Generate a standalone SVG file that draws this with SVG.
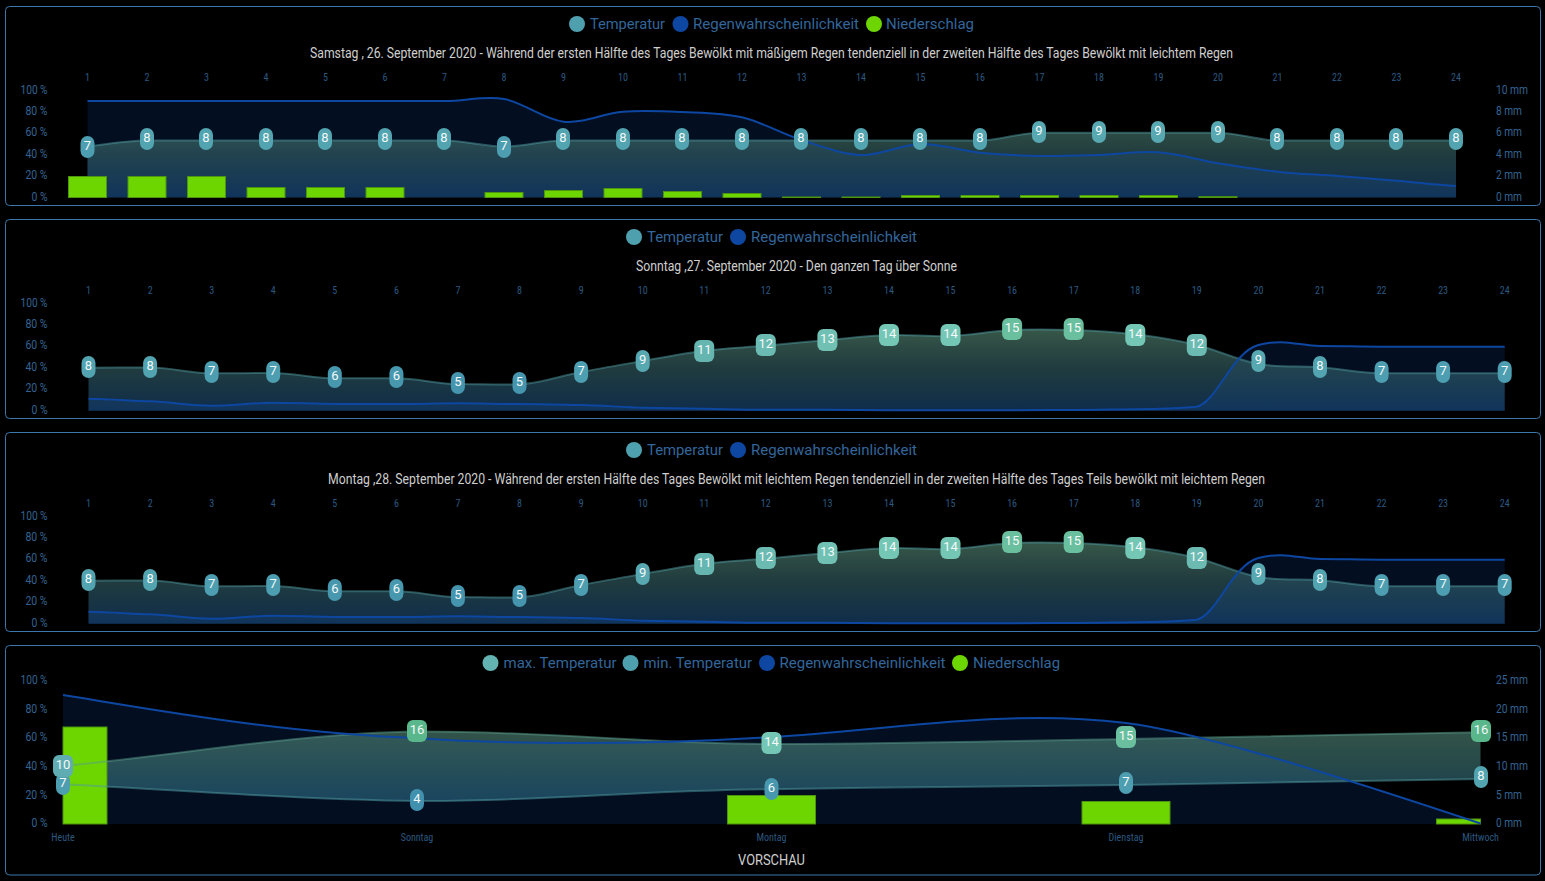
<svg xmlns="http://www.w3.org/2000/svg" width="1545" height="881" viewBox="0 0 1545 881">
<style>
text{font-family:Roboto,"Liberation Sans",sans-serif}
.hr{font-size:10px;fill:#2c5880;text-anchor:middle;font-stretch:75%}
.ax{font-size:13px;fill:#356390;text-anchor:end}
.ar{font-size:13px;fill:#356390}
.lg{font-size:15px;fill:#33669a}
.ttl{font-size:14px;fill:#cfcfcf}
.pn{fill:#000;stroke:#3c78ad;stroke-width:1}
.ra{fill:#0d47a1;fill-opacity:.2}
.rl{fill:none;stroke:#0d47a1;stroke-width:2}
.tl{fill:none;stroke:#4f9aa0;stroke-opacity:.5;stroke-width:2}
.bar{fill:#6dd600;stroke:#4f9410;stroke-width:1}
.b1{width:14px;height:22px;rx:7px;ry:7px}
.b2{width:20px;height:22px;rx:6px;ry:6px}
.bt{font-size:13px;fill:#f4f8f8;text-anchor:middle;font-weight:400}
.t4{fill:#4191ae}.t5{fill:#4695ae}.t6{fill:#4798ae}.t7{fill:#4c9eb0}.t8{fill:#52a4b0}.t9{fill:#58a8b2}
.t10{fill:#5fadb2}.t11{fill:#65b5b1}.t12{fill:#6bbbb2}.t13{fill:#70c1b4}.t14{fill:#74c7b5}.t15{fill:#69bf9e}.t16{fill:#5ab78b}
</style>
<defs>
<linearGradient id="gr1" gradientUnits="userSpaceOnUse" x1="0" x2="0" y1="90" y2="197.5">
<stop offset=".25" stop-color="#5f967d" stop-opacity=".58"/><stop offset=".6" stop-color="#41787d" stop-opacity=".5"/><stop offset="1" stop-color="#1e5a96" stop-opacity=".5"/>
</linearGradient>
<linearGradient id="gr2" gradientUnits="userSpaceOnUse" x1="0" x2="0" y1="303" y2="410.5">
<stop offset=".25" stop-color="#5f967d" stop-opacity=".58"/><stop offset=".6" stop-color="#41787d" stop-opacity=".5"/><stop offset="1" stop-color="#1e5a96" stop-opacity=".5"/>
</linearGradient>
<linearGradient id="gr4" gradientUnits="userSpaceOnUse" x1="0" x2="0" y1="720" y2="805">
<stop offset="0" stop-color="#5f967d" stop-opacity=".58"/><stop offset=".5" stop-color="#44807f" stop-opacity=".58"/><stop offset="1" stop-color="#2f7a9c" stop-opacity=".5"/>
</linearGradient>
</defs>
<rect width="1545" height="881" fill="#000"/>

<g id="panel-samstag">
<rect class="pn" x="5.5" y="6.5" width="1535" height="199" rx="4"/>
<g id="legend-1">
<circle cx="577" cy="24" r="8" fill="#4fa0ae"/><text class="lg" x="590" y="29" textLength="75" lengthAdjust="spacingAndGlyphs">Temperatur</text>
<circle cx="680.5" cy="24" r="8" fill="#0d47a1"/><text class="lg" x="693" y="29" textLength="166" lengthAdjust="spacingAndGlyphs">Regenwahrscheinlichkeit</text>
<circle cx="874" cy="24" r="8" fill="#6dd600"/><text class="lg" x="886" y="29" textLength="88" lengthAdjust="spacingAndGlyphs">Niederschlag</text>
</g>
<text class="ttl" x="310" y="58" textLength="923" lengthAdjust="spacingAndGlyphs">Samstag , 26. September 2020 - Während der ersten Hälfte des Tages Bewölkt mit mäßigem Regen tendenziell in der zweiten Hälfte des Tages Bewölkt mit leichtem Regen</text>
<g id="axis-1">
<text class="hr" x="87.5" y="80.5">1</text><text class="hr" x="147" y="80.5">2</text><text class="hr" x="206.5" y="80.5">3</text><text class="hr" x="266" y="80.5">4</text><text class="hr" x="325.5" y="80.5">5</text><text class="hr" x="385" y="80.5">6</text><text class="hr" x="444.5" y="80.5">7</text><text class="hr" x="504" y="80.5">8</text><text class="hr" x="563.5" y="80.5">9</text><text class="hr" x="623" y="80.5">10</text><text class="hr" x="682.5" y="80.5">11</text><text class="hr" x="742" y="80.5">12</text><text class="hr" x="801.5" y="80.5">13</text><text class="hr" x="861" y="80.5">14</text><text class="hr" x="920.5" y="80.5">15</text><text class="hr" x="980" y="80.5">16</text><text class="hr" x="1039.5" y="80.5">17</text><text class="hr" x="1099" y="80.5">18</text><text class="hr" x="1158.5" y="80.5">19</text><text class="hr" x="1218" y="80.5">20</text><text class="hr" x="1277.5" y="80.5">21</text><text class="hr" x="1337" y="80.5">22</text><text class="hr" x="1396.5" y="80.5">23</text><text class="hr" x="1456" y="80.5">24</text>
<text class="ax" x="47.5" y="94" textLength="27" lengthAdjust="spacingAndGlyphs">100 %</text><text class="ax" x="47.5" y="115" textLength="22" lengthAdjust="spacingAndGlyphs">80 %</text><text class="ax" x="47.5" y="136" textLength="22" lengthAdjust="spacingAndGlyphs">60 %</text><text class="ax" x="47.5" y="158" textLength="22" lengthAdjust="spacingAndGlyphs">40 %</text><text class="ax" x="47.5" y="179" textLength="22" lengthAdjust="spacingAndGlyphs">20 %</text><text class="ax" x="47.5" y="201" textLength="16" lengthAdjust="spacingAndGlyphs">0 %</text>
<text class="ar" x="1496" y="94" textLength="32" lengthAdjust="spacingAndGlyphs">10 mm</text><text class="ar" x="1496" y="115" textLength="26" lengthAdjust="spacingAndGlyphs">8 mm</text><text class="ar" x="1496" y="136" textLength="26" lengthAdjust="spacingAndGlyphs">6 mm</text><text class="ar" x="1496" y="158" textLength="26" lengthAdjust="spacingAndGlyphs">4 mm</text><text class="ar" x="1496" y="179" textLength="26" lengthAdjust="spacingAndGlyphs">2 mm</text><text class="ar" x="1496" y="201" textLength="26" lengthAdjust="spacingAndGlyphs">0 mm</text>
</g>
<path class="ra" d="M87.5 101H444.5C464.5 101.2 484 95.6 504 99S543.5 119.6 563.5 121.7S603 113.3 623 111.7S662.5 111.1 682.5 112S722 112.6 742 117.3S781.5 133.7 801.5 140S841 154.3 861 155S900.5 144.4 920.5 144S960 150.7 980 152.7S1019.5 155.6 1039.5 156S1079 155.6 1099 155S1138.5 150.9 1158.5 152.3S1198 160.1 1218 163.3S1257.5 169.6 1277.5 171.7S1317 174.5 1337 176S1376.5 179 1396.5 180.7S1436 185 1456 186V197.5H87.5Z"/>
<path fill="url(#gr1)" d="M87.5 146.7C107.5 144 127 140.5 147 140.5H444.5C464 140.5 484 146.7 504 146.7C524 146.7 543.5 140.5 563.5 140.5H980C1000 140.5 1019.5 132.7 1039.5 132.7H1218C1238 132.7 1257.5 140.5 1277.5 140.5H1456V197.5H87.5Z"/>
<path class="tl" d="M87.5 146.7C107.5 144 127 140.5 147 140.5H444.5C464 140.5 484 146.7 504 146.7C524 146.7 543.5 140.5 563.5 140.5H980C1000 140.5 1019.5 132.7 1039.5 132.7H1218C1238 132.7 1257.5 140.5 1277.5 140.5H1456"/>
<path class="rl" d="M87.5 101H444.5C464.5 101.2 484 95.6 504 99S543.5 119.6 563.5 121.7S603 113.3 623 111.7S662.5 111.1 682.5 112S722 112.6 742 117.3S781.5 133.7 801.5 140S841 154.3 861 155S900.5 144.4 920.5 144S960 150.7 980 152.7S1019.5 155.6 1039.5 156S1079 155.6 1099 155S1138.5 150.9 1158.5 152.3S1198 160.1 1218 163.3S1257.5 169.6 1277.5 171.7S1317 174.5 1337 176S1376.5 179 1396.5 180.7S1436 185 1456 186"/>
<g id="bars-1">
<rect class="bar" x="68.5" y="176.5" width="38" height="21"/><rect class="bar" x="128" y="176.5" width="38" height="21"/><rect class="bar" x="187.5" y="176.5" width="38" height="21"/><rect class="bar" x="247" y="187.5" width="38" height="10"/><rect class="bar" x="306.5" y="187.5" width="38" height="10"/><rect class="bar" x="366" y="187.5" width="38" height="10"/><rect class="bar" x="485" y="192.5" width="38" height="5"/><rect class="bar" x="544.5" y="190.5" width="38" height="7"/><rect class="bar" x="604" y="188.5" width="38" height="9"/><rect class="bar" x="663.5" y="191.5" width="38" height="6"/><rect class="bar" x="723" y="193.5" width="38" height="4"/><rect class="bar" x="782.5" y="197" width="38" height=".5"/><rect class="bar" x="842" y="197" width="38" height=".5"/><rect class="bar" x="901.5" y="195.5" width="38" height="2"/><rect class="bar" x="961" y="195.5" width="38" height="2"/><rect class="bar" x="1020.5" y="195.5" width="38" height="2"/><rect class="bar" x="1080" y="195.5" width="38" height="2"/><rect class="bar" x="1139.5" y="195.5" width="38" height="2"/><rect class="bar" x="1199" y="196.7" width="38" height=".8"/>
</g>
<g id="badges-1">
<rect class="b1 t7" x="80.5" y="136"/><text class="bt" x="87.5" y="150">7</text>
<rect class="b1 t8" x="140" y="128"/><text class="bt" x="147" y="142">8</text>
<rect class="b1 t8" x="199" y="128"/><text class="bt" x="206" y="142">8</text>
<rect class="b1 t8" x="259" y="128"/><text class="bt" x="266" y="142">8</text>
<rect class="b1 t8" x="318" y="128"/><text class="bt" x="325" y="142">8</text>
<rect class="b1 t8" x="378" y="128"/><text class="bt" x="385" y="142">8</text>
<rect class="b1 t8" x="437" y="128"/><text class="bt" x="444" y="142">8</text>
<rect class="b1 t7" x="497" y="136"/><text class="bt" x="504" y="150">7</text>
<rect class="b1 t8" x="556" y="128"/><text class="bt" x="563" y="142">8</text>
<rect class="b1 t8" x="616" y="128"/><text class="bt" x="623" y="142">8</text>
<rect class="b1 t8" x="675" y="128"/><text class="bt" x="682" y="142">8</text>
<rect class="b1 t8" x="735" y="128"/><text class="bt" x="742" y="142">8</text>
<rect class="b1 t8" x="794" y="128"/><text class="bt" x="801" y="142">8</text>
<rect class="b1 t8" x="854" y="128"/><text class="bt" x="861" y="142">8</text>
<rect class="b1 t8" x="913" y="128"/><text class="bt" x="920" y="142">8</text>
<rect class="b1 t8" x="973" y="128"/><text class="bt" x="980" y="142">8</text>
<rect class="b1 t9" x="1032" y="121"/><text class="bt" x="1039" y="135">9</text>
<rect class="b1 t9" x="1092" y="121"/><text class="bt" x="1099" y="135">9</text>
<rect class="b1 t9" x="1151" y="121"/><text class="bt" x="1158" y="135">9</text>
<rect class="b1 t9" x="1211" y="121"/><text class="bt" x="1218" y="135">9</text>
<rect class="b1 t8" x="1270" y="128"/><text class="bt" x="1277" y="142">8</text>
<rect class="b1 t8" x="1330" y="128"/><text class="bt" x="1337" y="142">8</text>
<rect class="b1 t8" x="1389" y="128"/><text class="bt" x="1396" y="142">8</text>
<rect class="b1 t8" x="1449" y="128"/><text class="bt" x="1456" y="142">8</text>
</g>
</g>

<g id="panel-sonntag">
<rect class="pn" x="5.5" y="219.5" width="1535" height="199" rx="4"/>
<g id="legend-2">
<circle cx="634" cy="237" r="8" fill="#4fa0ae"/><text class="lg" x="647" y="242" textLength="76" lengthAdjust="spacingAndGlyphs">Temperatur</text>
<circle cx="738" cy="237" r="8" fill="#0d47a1"/><text class="lg" x="751" y="242" textLength="166" lengthAdjust="spacingAndGlyphs">Regenwahrscheinlichkeit</text>
</g>
<text class="ttl" x="636" y="271" textLength="321" lengthAdjust="spacingAndGlyphs">Sonntag ,27. September 2020 - Den ganzen Tag über Sonne</text>
<g id="axis-2">
<text class="hr" x="88.5" y="293.5">1</text><text class="hr" x="150.1" y="293.5">2</text><text class="hr" x="211.6" y="293.5">3</text><text class="hr" x="273.2" y="293.5">4</text><text class="hr" x="334.8" y="293.5">5</text><text class="hr" x="396.4" y="293.5">6</text><text class="hr" x="457.9" y="293.5">7</text><text class="hr" x="519.5" y="293.5">8</text><text class="hr" x="581.1" y="293.5">9</text><text class="hr" x="642.7" y="293.5">10</text><text class="hr" x="704.2" y="293.5">11</text><text class="hr" x="765.8" y="293.5">12</text><text class="hr" x="827.4" y="293.5">13</text><text class="hr" x="889" y="293.5">14</text><text class="hr" x="950.5" y="293.5">15</text><text class="hr" x="1012.1" y="293.5">16</text><text class="hr" x="1073.7" y="293.5">17</text><text class="hr" x="1135.3" y="293.5">18</text><text class="hr" x="1196.8" y="293.5">19</text><text class="hr" x="1258.4" y="293.5">20</text><text class="hr" x="1320" y="293.5">21</text><text class="hr" x="1381.6" y="293.5">22</text><text class="hr" x="1443.1" y="293.5">23</text><text class="hr" x="1504.7" y="293.5">24</text>
<text class="ax" x="47.5" y="307" textLength="27" lengthAdjust="spacingAndGlyphs">100 %</text><text class="ax" x="47.5" y="328" textLength="22" lengthAdjust="spacingAndGlyphs">80 %</text><text class="ax" x="47.5" y="349" textLength="22" lengthAdjust="spacingAndGlyphs">60 %</text><text class="ax" x="47.5" y="371" textLength="22" lengthAdjust="spacingAndGlyphs">40 %</text><text class="ax" x="47.5" y="392" textLength="22" lengthAdjust="spacingAndGlyphs">20 %</text><text class="ax" x="47.5" y="414" textLength="16" lengthAdjust="spacingAndGlyphs">0 %</text>
</g>
<path class="ra" d="M88.5 398.7C109 399 129.6 400.6 150.1 401.3S191.1 405.7 211.6 405.7S252.7 402.7 273.2 402.7S314.3 404 334.8 404S375.9 404 396.4 404S437.4 403.3 457.9 403.3S499 404 519.5 404S560.6 404.6 581.1 405S622.2 407.2 642.7 407.7S683.7 408.4 704.2 408.7S745.3 409.7 765.8 409.7S806.9 409.8 827.4 409.8S868.5 410.3 889 410.3H1012.1S1053.2 410 1073.7 410S1114.8 409.5 1135.3 409.3S1176.3 408.5 1196.8 406.7C1217 402 1232 352 1258.4 345S1299.5 346 1320 346S1361 346.7 1381.6 346.7H1504.7V410.7H88.5Z"/>
<path fill="url(#gr2)" d="M88.5 367.7C109 367.5 129.6 367.5 150.1 367.5S191.1 373.3 211.6 373.3S252.7 373 273.2 373S314.3 378.3 334.8 378.3S375.9 378.3 396.4 378.3S437.4 384 457.9 384S499 385 519.5 384.3S560.6 375.9 581.1 372S622.2 364.6 642.7 361S683.7 353.3 704.2 350.7S745.3 347.5 765.8 345.7S806.9 341.8 827.4 340S868.5 335.7 889 335S930 336.8 950.5 336S991.6 331 1012.1 330S1053.2 329.3 1073.7 330S1114.8 331.8 1135.3 334.3S1176.3 340 1196.8 345S1237.9 360.3 1258.4 364S1299.5 365.8 1320 367.3S1361.1 373.3 1381.6 373.3H1504.7V410.7H88.5Z"/>
<path class="tl" d="M88.5 367.7C109 367.5 129.6 367.5 150.1 367.5S191.1 373.3 211.6 373.3S252.7 373 273.2 373S314.3 378.3 334.8 378.3S375.9 378.3 396.4 378.3S437.4 384 457.9 384S499 385 519.5 384.3S560.6 375.9 581.1 372S622.2 364.6 642.7 361S683.7 353.3 704.2 350.7S745.3 347.5 765.8 345.7S806.9 341.8 827.4 340S868.5 335.7 889 335S930 336.8 950.5 336S991.6 331 1012.1 330S1053.2 329.3 1073.7 330S1114.8 331.8 1135.3 334.3S1176.3 340 1196.8 345S1237.9 360.3 1258.4 364S1299.5 365.8 1320 367.3S1361.1 373.3 1381.6 373.3H1504.7"/>
<path class="rl" d="M88.5 398.7C109 399 129.6 400.6 150.1 401.3S191.1 405.7 211.6 405.7S252.7 402.7 273.2 402.7S314.3 404 334.8 404S375.9 404 396.4 404S437.4 403.3 457.9 403.3S499 404 519.5 404S560.6 404.6 581.1 405S622.2 407.2 642.7 407.7S683.7 408.4 704.2 408.7S745.3 409.7 765.8 409.7S806.9 409.8 827.4 409.8S868.5 410.3 889 410.3H1012.1S1053.2 410 1073.7 410S1114.8 409.5 1135.3 409.3S1176.3 408.5 1196.8 406.7C1217 402 1232 352 1258.4 345S1299.5 346 1320 346S1361 346.7 1381.6 346.7H1504.7"/>
<g id="badges-2">
<rect class="b1 t8" x="81.5" y="356"/><text class="bt" x="88.5" y="370">8</text>
<rect class="b1 t8" x="143.1" y="356"/><text class="bt" x="150.1" y="370">8</text>
<rect class="b1 t7" x="204.6" y="361"/><text class="bt" x="211.6" y="375">7</text>
<rect class="b1 t7" x="266.2" y="361"/><text class="bt" x="273.2" y="375">7</text>
<rect class="b1 t6" x="327.8" y="366"/><text class="bt" x="334.8" y="380">6</text>
<rect class="b1 t6" x="389.4" y="366"/><text class="bt" x="396.4" y="380">6</text>
<rect class="b1 t5" x="450.9" y="372"/><text class="bt" x="457.9" y="386">5</text>
<rect class="b1 t5" x="512.5" y="372"/><text class="bt" x="519.5" y="386">5</text>
<rect class="b1 t7" x="574.1" y="361"/><text class="bt" x="581.1" y="375">7</text>
<rect class="b1 t9" x="635.7" y="350"/><text class="bt" x="642.7" y="364">9</text>
<rect class="b2 t11" x="694.2" y="340"/><text class="bt" x="704.2" y="354">11</text>
<rect class="b2 t12" x="755.8" y="334"/><text class="bt" x="765.8" y="348">12</text>
<rect class="b2 t13" x="817.4" y="329"/><text class="bt" x="827.4" y="343">13</text>
<rect class="b2 t14" x="879" y="324"/><text class="bt" x="889" y="338">14</text>
<rect class="b2 t14" x="940.5" y="324"/><text class="bt" x="950.5" y="338">14</text>
<rect class="b2 t15" x="1002.1" y="318"/><text class="bt" x="1012.1" y="332">15</text>
<rect class="b2 t15" x="1063.7" y="318"/><text class="bt" x="1073.7" y="332">15</text>
<rect class="b2 t14" x="1125.3" y="324"/><text class="bt" x="1135.3" y="338">14</text>
<rect class="b2 t12" x="1186.8" y="334"/><text class="bt" x="1196.8" y="348">12</text>
<rect class="b1 t9" x="1251.4" y="350"/><text class="bt" x="1258.4" y="364">9</text>
<rect class="b1 t8" x="1313" y="356"/><text class="bt" x="1320" y="370">8</text>
<rect class="b1 t7" x="1374.6" y="361"/><text class="bt" x="1381.6" y="375">7</text>
<rect class="b1 t7" x="1436.1" y="361"/><text class="bt" x="1443.1" y="375">7</text>
<rect class="b1 t7" x="1497.7" y="361"/><text class="bt" x="1504.7" y="375">7</text>
</g>
</g>

<g id="panel-montag" transform="translate(0,213)">
<rect class="pn" x="5.5" y="219.5" width="1535" height="199" rx="4"/>
<g id="legend-3">
<circle cx="634" cy="237" r="8" fill="#4fa0ae"/><text class="lg" x="647" y="242" textLength="76" lengthAdjust="spacingAndGlyphs">Temperatur</text>
<circle cx="738" cy="237" r="8" fill="#0d47a1"/><text class="lg" x="751" y="242" textLength="166" lengthAdjust="spacingAndGlyphs">Regenwahrscheinlichkeit</text>
</g>
<text class="ttl" x="328" y="271" textLength="937" lengthAdjust="spacingAndGlyphs">Montag ,28. September 2020 - Während der ersten Hälfte des Tages Bewölkt mit leichtem Regen tendenziell in der zweiten Hälfte des Tages Teils bewölkt mit leichtem Regen</text>
<g id="axis-3">
<text class="hr" x="88.5" y="293.5">1</text><text class="hr" x="150.1" y="293.5">2</text><text class="hr" x="211.6" y="293.5">3</text><text class="hr" x="273.2" y="293.5">4</text><text class="hr" x="334.8" y="293.5">5</text><text class="hr" x="396.4" y="293.5">6</text><text class="hr" x="457.9" y="293.5">7</text><text class="hr" x="519.5" y="293.5">8</text><text class="hr" x="581.1" y="293.5">9</text><text class="hr" x="642.7" y="293.5">10</text><text class="hr" x="704.2" y="293.5">11</text><text class="hr" x="765.8" y="293.5">12</text><text class="hr" x="827.4" y="293.5">13</text><text class="hr" x="889" y="293.5">14</text><text class="hr" x="950.5" y="293.5">15</text><text class="hr" x="1012.1" y="293.5">16</text><text class="hr" x="1073.7" y="293.5">17</text><text class="hr" x="1135.3" y="293.5">18</text><text class="hr" x="1196.8" y="293.5">19</text><text class="hr" x="1258.4" y="293.5">20</text><text class="hr" x="1320" y="293.5">21</text><text class="hr" x="1381.6" y="293.5">22</text><text class="hr" x="1443.1" y="293.5">23</text><text class="hr" x="1504.7" y="293.5">24</text>
<text class="ax" x="47.5" y="307" textLength="27" lengthAdjust="spacingAndGlyphs">100 %</text><text class="ax" x="47.5" y="328" textLength="22" lengthAdjust="spacingAndGlyphs">80 %</text><text class="ax" x="47.5" y="349" textLength="22" lengthAdjust="spacingAndGlyphs">60 %</text><text class="ax" x="47.5" y="371" textLength="22" lengthAdjust="spacingAndGlyphs">40 %</text><text class="ax" x="47.5" y="392" textLength="22" lengthAdjust="spacingAndGlyphs">20 %</text><text class="ax" x="47.5" y="414" textLength="16" lengthAdjust="spacingAndGlyphs">0 %</text>
</g>
<path class="ra" d="M88.5 398.7C109 399 129.6 400.6 150.1 401.3S191.1 405.7 211.6 405.7S252.7 402.7 273.2 402.7S314.3 404 334.8 404S375.9 404 396.4 404S437.4 403.3 457.9 403.3S499 404 519.5 404S560.6 404.6 581.1 405S622.2 407.2 642.7 407.7S683.7 408.4 704.2 408.7S745.3 409.7 765.8 409.7S806.9 409.8 827.4 409.8S868.5 410.3 889 410.3H1012.1S1053.2 410 1073.7 410S1114.8 409.5 1135.3 409.3S1176.3 408.5 1196.8 406.7C1217 402 1232 352 1258.4 345S1299.5 346 1320 346S1361 346.7 1381.6 346.7H1504.7V410.7H88.5Z"/>
<path fill="url(#gr2)" d="M88.5 367.7C109 367.5 129.6 367.5 150.1 367.5S191.1 373.3 211.6 373.3S252.7 373 273.2 373S314.3 378.3 334.8 378.3S375.9 378.3 396.4 378.3S437.4 384 457.9 384S499 385 519.5 384.3S560.6 375.9 581.1 372S622.2 364.6 642.7 361S683.7 353.3 704.2 350.7S745.3 347.5 765.8 345.7S806.9 341.8 827.4 340S868.5 335.7 889 335S930 336.8 950.5 336S991.6 331 1012.1 330S1053.2 329.3 1073.7 330S1114.8 331.8 1135.3 334.3S1176.3 340 1196.8 345S1237.9 360.3 1258.4 364S1299.5 365.8 1320 367.3S1361.1 373.3 1381.6 373.3H1504.7V410.7H88.5Z"/>
<path class="tl" d="M88.5 367.7C109 367.5 129.6 367.5 150.1 367.5S191.1 373.3 211.6 373.3S252.7 373 273.2 373S314.3 378.3 334.8 378.3S375.9 378.3 396.4 378.3S437.4 384 457.9 384S499 385 519.5 384.3S560.6 375.9 581.1 372S622.2 364.6 642.7 361S683.7 353.3 704.2 350.7S745.3 347.5 765.8 345.7S806.9 341.8 827.4 340S868.5 335.7 889 335S930 336.8 950.5 336S991.6 331 1012.1 330S1053.2 329.3 1073.7 330S1114.8 331.8 1135.3 334.3S1176.3 340 1196.8 345S1237.9 360.3 1258.4 364S1299.5 365.8 1320 367.3S1361.1 373.3 1381.6 373.3H1504.7"/>
<path class="rl" d="M88.5 398.7C109 399 129.6 400.6 150.1 401.3S191.1 405.7 211.6 405.7S252.7 402.7 273.2 402.7S314.3 404 334.8 404S375.9 404 396.4 404S437.4 403.3 457.9 403.3S499 404 519.5 404S560.6 404.6 581.1 405S622.2 407.2 642.7 407.7S683.7 408.4 704.2 408.7S745.3 409.7 765.8 409.7S806.9 409.8 827.4 409.8S868.5 410.3 889 410.3H1012.1S1053.2 410 1073.7 410S1114.8 409.5 1135.3 409.3S1176.3 408.5 1196.8 406.7C1217 402 1232 352 1258.4 345S1299.5 346 1320 346S1361 346.7 1381.6 346.7H1504.7"/>
<g id="badges-3">
<rect class="b1 t8" x="81.5" y="356"/><text class="bt" x="88.5" y="370">8</text>
<rect class="b1 t8" x="143.1" y="356"/><text class="bt" x="150.1" y="370">8</text>
<rect class="b1 t7" x="204.6" y="361"/><text class="bt" x="211.6" y="375">7</text>
<rect class="b1 t7" x="266.2" y="361"/><text class="bt" x="273.2" y="375">7</text>
<rect class="b1 t6" x="327.8" y="366"/><text class="bt" x="334.8" y="380">6</text>
<rect class="b1 t6" x="389.4" y="366"/><text class="bt" x="396.4" y="380">6</text>
<rect class="b1 t5" x="450.9" y="372"/><text class="bt" x="457.9" y="386">5</text>
<rect class="b1 t5" x="512.5" y="372"/><text class="bt" x="519.5" y="386">5</text>
<rect class="b1 t7" x="574.1" y="361"/><text class="bt" x="581.1" y="375">7</text>
<rect class="b1 t9" x="635.7" y="350"/><text class="bt" x="642.7" y="364">9</text>
<rect class="b2 t11" x="694.2" y="340"/><text class="bt" x="704.2" y="354">11</text>
<rect class="b2 t12" x="755.8" y="334"/><text class="bt" x="765.8" y="348">12</text>
<rect class="b2 t13" x="817.4" y="329"/><text class="bt" x="827.4" y="343">13</text>
<rect class="b2 t14" x="879" y="324"/><text class="bt" x="889" y="338">14</text>
<rect class="b2 t14" x="940.5" y="324"/><text class="bt" x="950.5" y="338">14</text>
<rect class="b2 t15" x="1002.1" y="318"/><text class="bt" x="1012.1" y="332">15</text>
<rect class="b2 t15" x="1063.7" y="318"/><text class="bt" x="1073.7" y="332">15</text>
<rect class="b2 t14" x="1125.3" y="324"/><text class="bt" x="1135.3" y="338">14</text>
<rect class="b2 t12" x="1186.8" y="334"/><text class="bt" x="1196.8" y="348">12</text>
<rect class="b1 t9" x="1251.4" y="350"/><text class="bt" x="1258.4" y="364">9</text>
<rect class="b1 t8" x="1313" y="356"/><text class="bt" x="1320" y="370">8</text>
<rect class="b1 t7" x="1374.6" y="361"/><text class="bt" x="1381.6" y="375">7</text>
<rect class="b1 t7" x="1436.1" y="361"/><text class="bt" x="1443.1" y="375">7</text>
<rect class="b1 t7" x="1497.7" y="361"/><text class="bt" x="1504.7" y="375">7</text>
</g>
</g>

<g id="panel-vorschau">
<rect class="pn" x="5.5" y="645.5" width="1535" height="229.5" rx="4"/>
<g id="legend-4">
<circle cx="490.5" cy="663" r="8" fill="#64b3b3"/><text class="lg" x="503.5" y="668" textLength="113" lengthAdjust="spacingAndGlyphs">max. Temperatur</text>
<circle cx="630.5" cy="663" r="8" fill="#4fa0ae"/><text class="lg" x="643.5" y="668" textLength="108.5" lengthAdjust="spacingAndGlyphs">min. Temperatur</text>
<circle cx="767" cy="663" r="8" fill="#0d47a1"/><text class="lg" x="779.5" y="668" textLength="166" lengthAdjust="spacingAndGlyphs">Regenwahrscheinlichkeit</text>
<circle cx="960" cy="663" r="8" fill="#6dd600"/><text class="lg" x="973" y="668" textLength="87" lengthAdjust="spacingAndGlyphs">Niederschlag</text>
</g>
<g id="axis-4">
<text class="ax" x="47.5" y="684" textLength="27" lengthAdjust="spacingAndGlyphs">100 %</text><text class="ax" x="47.5" y="713" textLength="22" lengthAdjust="spacingAndGlyphs">80 %</text><text class="ax" x="47.5" y="741" textLength="22" lengthAdjust="spacingAndGlyphs">60 %</text><text class="ax" x="47.5" y="770" textLength="22" lengthAdjust="spacingAndGlyphs">40 %</text><text class="ax" x="47.5" y="799" textLength="22" lengthAdjust="spacingAndGlyphs">20 %</text><text class="ax" x="47.5" y="827" textLength="16" lengthAdjust="spacingAndGlyphs">0 %</text>
<text class="ar" x="1496" y="684" textLength="32" lengthAdjust="spacingAndGlyphs">25 mm</text><text class="ar" x="1496" y="713" textLength="32" lengthAdjust="spacingAndGlyphs">20 mm</text><text class="ar" x="1496" y="741" textLength="32" lengthAdjust="spacingAndGlyphs">15 mm</text><text class="ar" x="1496" y="770" textLength="32" lengthAdjust="spacingAndGlyphs">10 mm</text><text class="ar" x="1496" y="799" textLength="26" lengthAdjust="spacingAndGlyphs">5 mm</text><text class="ar" x="1496" y="827" textLength="26" lengthAdjust="spacingAndGlyphs">0 mm</text>
<text class="hr" x="63" y="840.5">Heute</text><text class="hr" x="417" y="840.5">Sonntag</text><text class="hr" x="771.5" y="840.5">Montag</text><text class="hr" x="1126" y="840.5">Dienstag</text><text class="hr" x="1480.5" y="840.5">Mittwoch</text>
</g>
<path class="ra" d="M63 695C150 709 280 733 417 738C470 742 530 743 574 743C640 743 710 741 771.5 737C860 732 950 718 1040 718C1080 718 1100 720 1126 723C1200 732 1350 780 1480.5 823.5V824H63Z"/>
<path fill="url(#gr4)" d="M63 766C180 755 300 733 417 731.5C550 731 650 744 771.5 744C890 744 1010 741 1126 739C1240 737 1360 734 1480.5 732.3V779C1360 781 1240 783 1126 785C1010 786 890 787 771.5 789.3C650 790 530 802 417 801C300 800 180 790 63 784.3Z"/>
<g id="bars-4">
<rect class="bar" x="63" y="727" width="44" height="97"/><rect class="bar" x="727.5" y="795.5" width="88" height="28.5"/><rect class="bar" x="1082" y="801.5" width="88" height="22.5"/><rect class="bar" x="1436.5" y="819" width="44" height="5"/>
</g>
<path class="tl" style="stroke:#5a9c8c" d="M63 766C180 755 300 733 417 731.5C550 731 650 744 771.5 744C890 744 1010 741 1126 739C1240 737 1360 734 1480.5 732.3"/>
<path class="tl" d="M63 784.3C180 790 300 800 417 801C530 802 650 790 771.5 789.3C890 787 1010 786 1126 785C1240 783 1360 781 1480.5 779"/>
<path class="rl" d="M63 695C150 709 280 733 417 738C470 742 530 743 574 743C640 743 710 741 771.5 737C860 732 950 718 1040 718C1080 718 1100 720 1126 723C1200 732 1350 780 1480.5 823.5"/>
<g id="badges-4">
<rect class="b1 t7" x="56" y="773"/><text class="bt" x="63" y="787">7</text>
<rect class="b2 t10" x="53" y="755"/><text class="bt" x="63" y="769">10</text>
<rect class="b2 t16" x="407" y="720"/><text class="bt" x="417" y="734">16</text>
<rect class="b1 t4" x="410" y="789"/><text class="bt" x="417" y="803">4</text>
<rect class="b2 t14" x="761.5" y="732"/><text class="bt" x="771.5" y="746">14</text>
<rect class="b1 t6" x="764.5" y="778"/><text class="bt" x="771.5" y="792">6</text>
<rect class="b2 t15" x="1116" y="726"/><text class="bt" x="1126" y="740">15</text>
<rect class="b1 t7" x="1119" y="772"/><text class="bt" x="1126" y="786">7</text>
<rect class="b2 t16" x="1471" y="720"/><text class="bt" x="1481" y="734">16</text>
<rect class="b1 t8" x="1474" y="766"/><text class="bt" x="1481" y="780">8</text>
</g>
<text class="ttl" x="738" y="865" style="font-size:15px" textLength="67" lengthAdjust="spacingAndGlyphs">VORSCHAU</text>
</g>
</svg>
